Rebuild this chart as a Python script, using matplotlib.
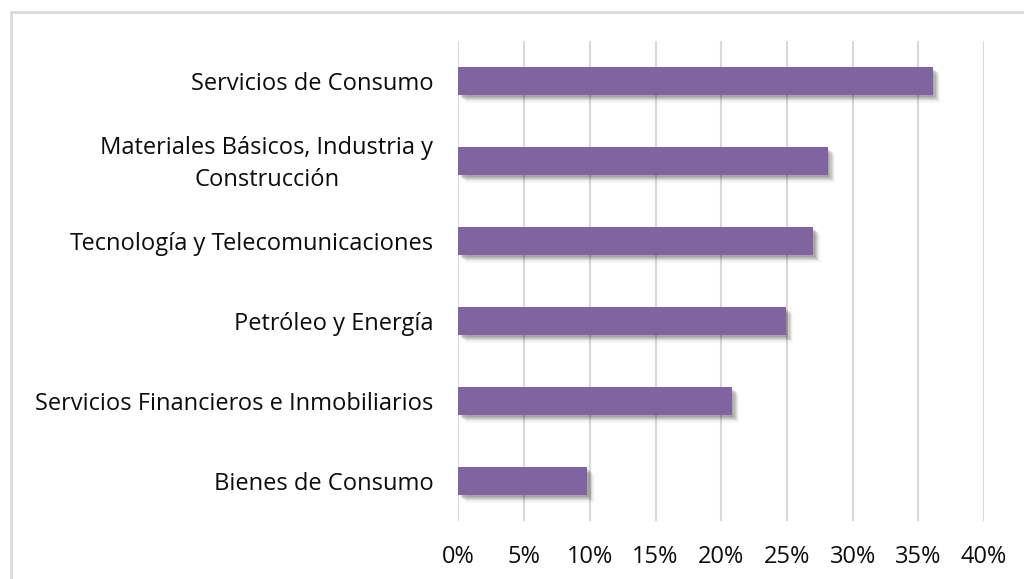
import matplotlib
matplotlib.use("Agg")
import matplotlib.pyplot as plt
import matplotlib.font_manager as fm
import matplotlib.patheffects as pe
import matplotlib.transforms as mtransforms
from matplotlib.patches import Rectangle
from matplotlib.ticker import FuncFormatter, MultipleLocator

categories = [
    "Servicios de Consumo",
    "Materiales Básicos, Industria y\nConstrucción",
    "Tecnología y Telecomunicaciones",
    "Petróleo y Energía",
    "Servicios Financieros e Inmobiliarios",
    "Bienes de Consumo",
]
values = [36.1, 28.1, 27.0, 24.9, 20.8, 9.8]

bar_color = "#8064A2"
grid_color = "#D9D9D9"
text_color = "#0D0D0D"

# take the static regular file of Open Sans, not the variable one
regular = [f.fname for f in fm.fontManager.ttflist
           if f.fname.endswith("OpenSans-Regular.ttf")]
if regular:
    font = fm.FontProperties(fname=regular[0], size=17)
else:
    font = fm.FontProperties(family="Open Sans", size=17)

fig = plt.figure(figsize=(10.24, 5.79), dpi=100, facecolor="white")
ax = fig.add_axes([0.4477, 0.1002, 0.5133, 0.829])

# soft drop shadow from several offset layers
shadow = [
    pe.SimplePatchShadow(offset=(o, -o), shadow_rgbFace="black", alpha=a)
    for o, a in [(5.5, 0.03), (4.5, 0.05), (3.6, 0.07),
                 (2.8, 0.08), (2.0, 0.09), (1.2, 0.08)]
]

ypos = list(range(len(categories)))[::-1]
bars = ax.barh(ypos, values, height=0.35, color=bar_color, zorder=3)
for b in bars:
    b.set_path_effects(shadow + [pe.Normal()])

ax.set_xlim(0, 40)
ax.set_ylim(-0.5, len(categories) - 0.5)
ax.xaxis.set_major_locator(MultipleLocator(5))
ax.xaxis.set_major_formatter(FuncFormatter(lambda v, p: f"{v:.0f}%"))
ax.set_yticks(ypos)
ax.set_yticklabels(categories)

ax.grid(axis="x", color=grid_color, linewidth=1.5, zorder=0)
ax.set_axisbelow(True)
for s in ax.spines.values():
    s.set_visible(False)
ax.tick_params(axis="x", length=0, pad=17, colors=text_color)
ax.tick_params(axis="y", length=0, pad=18, colors=text_color)

fig.canvas.draw()
for lab in ax.get_xticklabels() + ax.get_yticklabels():
    lab.set_fontproperties(font)
for lab in ax.get_yticklabels():
    lab.set_multialignment("center")
    lab.set_linespacing(1.47)
    if "\n" in lab.get_text():
        # two-line label sits a little higher in the reference
        lab.set_transform(lab.get_transform() + mtransforms.ScaledTranslation(
            0, 3 / 72, fig.dpi_scale_trans))

fig.patches.append(Rectangle(
    (11 / 1024, -0.1), 1.2, 1 - 12 / 579 + 0.1,
    transform=fig.transFigure, fill=False,
    edgecolor=grid_color, linewidth=2,
))

fig.savefig("out.png", dpi=100, facecolor="white")
